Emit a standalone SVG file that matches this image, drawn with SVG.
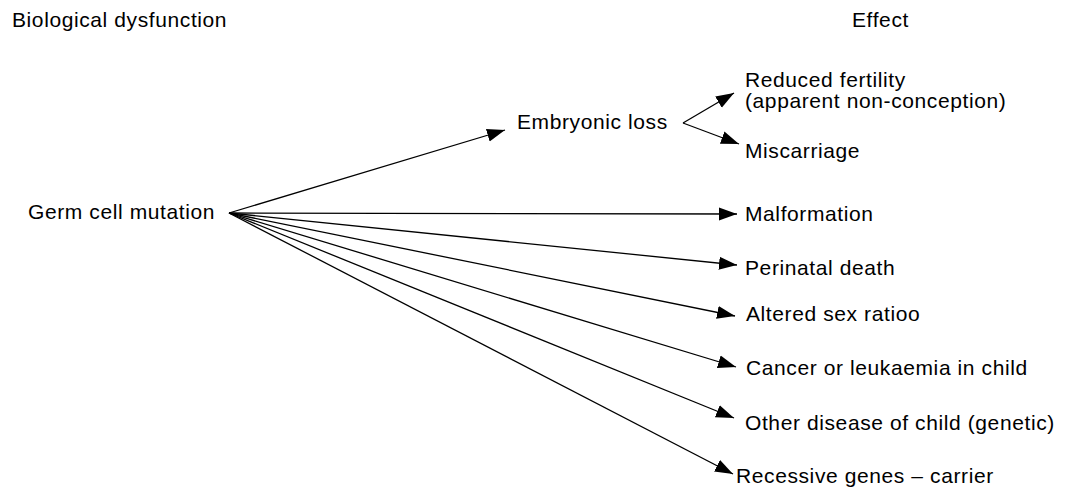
<svg xmlns="http://www.w3.org/2000/svg" width="1070" height="488" viewBox="0 0 1070 488">
<style>
text{font-family:"Liberation Sans",Arial,sans-serif;font-size:21px;letter-spacing:0.6px;fill:#000}
.c line{stroke:#000;stroke-width:1.3;fill:none}
</style>
<defs>
<marker id="ah" markerUnits="userSpaceOnUse" markerWidth="20" markerHeight="14" refX="18" refY="7" orient="auto">
<path d="M0,0.5 L18,7 L0,13.5 Z" fill="#000"/>
</marker>
</defs>
<rect width="1070" height="488" fill="#fff"/>
<g id="headers">
<text x="12" y="27">Biological dysfunction</text>
<text x="852" y="27">Effect</text>
</g>
<g class="c" id="connectors">
<line x1="229" y1="213" x2="505" y2="130" marker-end="url(#ah)"/>
<line x1="229" y1="213" x2="737" y2="214" marker-end="url(#ah)"/>
<line x1="229" y1="213" x2="737" y2="265" marker-end="url(#ah)"/>
<line x1="229" y1="213" x2="735" y2="316" marker-end="url(#ah)"/>
<line x1="229" y1="213" x2="736" y2="367" marker-end="url(#ah)"/>
<line x1="229" y1="213" x2="734" y2="418" marker-end="url(#ah)"/>
<line x1="229" y1="213" x2="733" y2="474" marker-end="url(#ah)"/>
<line x1="683" y1="123" x2="734" y2="93" marker-end="url(#ah)"/>
<line x1="683" y1="123" x2="739" y2="144" marker-end="url(#ah)"/>
</g>
<g id="germ"><text x="28" y="219">Germ cell mutation</text></g>
<g id="embryonic"><text x="517" y="129">Embryonic loss</text></g>
<g id="reduced"><text x="745" y="87">Reduced fertility</text><text x="745" y="108">(apparent non-conception)</text></g>
<g id="miscarriage"><text x="745" y="158">Miscarriage</text></g>
<g id="malformation"><text x="745" y="221">Malformation</text></g>
<g id="perinatal"><text x="745" y="275">Perinatal death</text></g>
<g id="sexratio"><text x="746" y="321">Altered sex ratioo</text></g>
<g id="cancer"><text x="746" y="375">Cancer or leukaemia in child</text></g>
<g id="other"><text x="745" y="430">Other disease of child (genetic)</text></g>
<g id="recessive"><text x="736" y="483">Recessive genes – carrier</text></g>
</svg>
